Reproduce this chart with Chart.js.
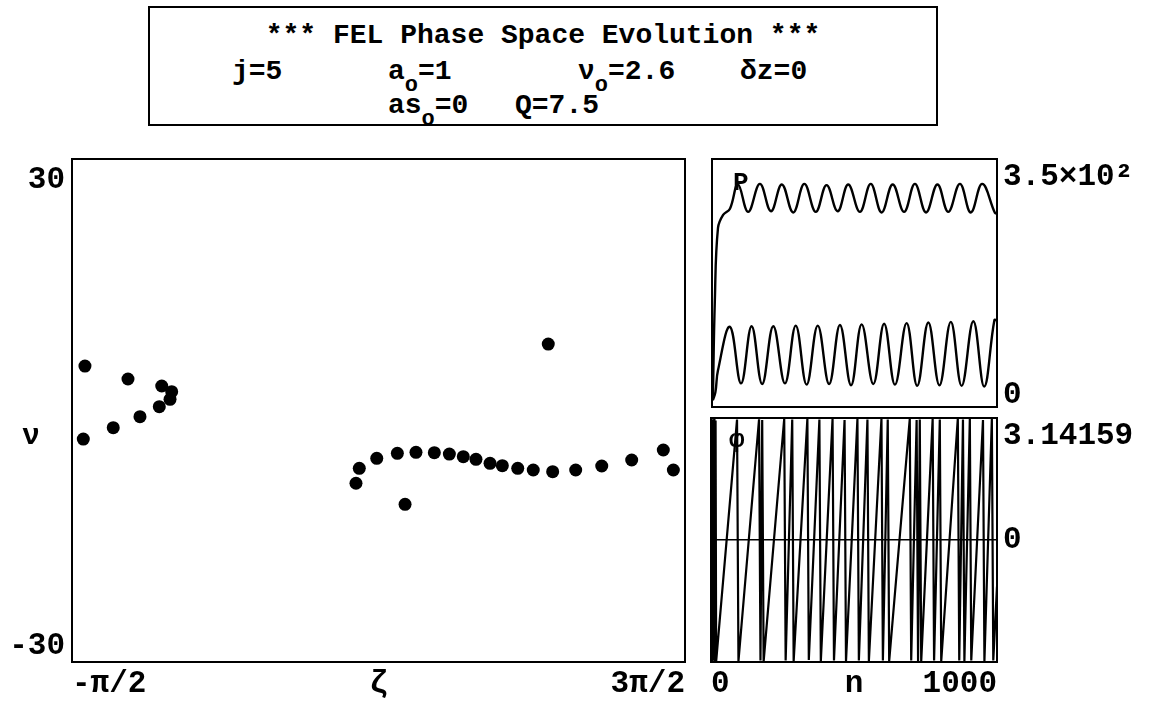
<!DOCTYPE html>
<html>
<head>
<meta charset="utf-8">
<script src="https://cdn.jsdelivr.net/npm/chart.js@4.4.1/dist/chart.umd.min.js"></script>
<style>
  html, body { margin: 0; padding: 0; background: #fff; }
  body { width: 1152px; height: 706px; position: relative; overflow: hidden;
         font-family: 'Liberation Mono', 'DejaVu Sans Mono', monospace; font-weight: bold; color: #000; }
  .pane { position: absolute; }
  #title { position: absolute; left: 148px; top: 6px; width: 786px; height: 116px; border: 2px solid #000; }
  .t { position: absolute; font-size: 28px; line-height: 28px; white-space: pre; }
  .sub { font-size: 22px; position: relative; top: 12px; }
  .lbl { position: absolute; font-size: 30px; line-height: 30px; }
</style>
</head>
<body>
<div id="title">
  <div class="t" style="left:0;width:786px;text-align:center;top:14px;">*** FEL Phase Space Evolution ***</div>
  <div class="t" style="left:82px;top:50px;">j=5</div>
  <div class="t" style="left:238px;top:50px;">a<span class="sub">o</span>=1</div>
  <div class="t" style="left:428px;top:50px;">ν<span class="sub">o</span>=2.6</div>
  <div class="t" style="left:590px;top:50px;">δz=0</div>
  <div class="t" style="left:238px;top:84px;">as<span class="sub">o</span>=0</div>
  <div class="t" style="left:365px;top:84px;">Q=7.5</div>
</div>

<div class="pane" style="left:0;top:150px;width:705px;height:556px;"><canvas id="phase"></canvas></div>
<div class="pane" style="left:705px;top:150px;width:447px;height:262px;"><canvas id="power"></canvas></div>
<div class="pane" style="left:705px;top:410px;width:447px;height:296px;"><canvas id="phi"></canvas></div>

<div class="lbl" style="left:22px;top:421px;">ν</div>
<div class="lbl" style="left:733px;top:168px;font-size:26px;">P</div>
<div class="lbl" style="left:729px;top:425px;font-size:26px;">φ</div>

<script>
// electron phase space: zeta (rad) vs nu
const zeta = [-1.438, -0.997, -0.651, -0.549, -0.566, -0.676, -0.874, -1.148, -1.455,
              3.311, 1.374, 1.340, 1.553, 1.764, 1.955, 2.143, 2.297, 2.440, 2.570, 2.714,
              2.840, 2.998, 3.157, 3.356, 3.592, 3.859, 4.166, 4.490, 4.593, 1.843];
const nu = [6.07, 4.40, 3.50, 2.77, 1.79, 0.84, -0.45, -1.86, -3.32,
            8.90, -7.09, -9.01, -5.80, -5.16, -5.03, -5.08, -5.25, -5.59, -5.93, -6.44,
            -6.75, -7.09, -7.30, -7.52, -7.30, -6.79, -6.02, -4.73, -7.30, -11.72];
const zetaTicks = [-Math.PI / 2, Math.PI / 2, 3 * Math.PI / 2];
const zetaLabels = ['-π/2', 'ζ', '3π/2'];
const nuTicks = [-30, 30];
const nuLabels = ['-30', '30'];

// upper curve (P) and lower curve vs pass number n
const pN = [3, 10, 21, 39, 63, 91, 127, 168, 207, 245, 285, 324, 364, 402, 441, 478, 519, 557,
            595, 634, 674, 712, 751, 791, 829, 870, 908, 948, 993, 1000];
const pVal = [-8, 153, 269, 290, 300, 339, 295, 340, 296, 339, 294, 340, 295, 338, 296, 339, 295, 340,
              294, 339, 295, 340, 294, 339, 295, 340, 294, 340, 293, 292];
const aN = [3, 12, 21, 63, 102, 139, 176, 215, 256, 294, 332, 371, 411, 449, 488, 525, 566, 604,
            642, 683, 720, 759, 798, 838, 876, 917, 955, 991, 1000];
const aVal = [-8, 5, 40, 110, 19, 111, 18, 111, 19, 112, 17, 112, 18, 113, 16, 114, 18, 115,
              17, 116, 15, 117, 16, 118, 15, 119, 14, 121, 120];
const powerTicks = [0, 350];
const powerLabels = ['0', '3.5×10²'];

// optical phase vs n (wrapped to -pi..pi)
const phN = [0, 3, 5, 7, 9, 12, 14, 16, 18, 91, 96, 168, 173, 179, 184, 256, 261, 284, 289, 337, 342, 379, 384,
             425, 430, 467, 472, 512, 517, 547, 552, 596, 601, 618, 623, 695, 700, 719, 724, 730, 735,
             775, 780, 800, 805, 863, 868, 881, 886, 905, 910, 951, 956, 982, 987, 1000];
const phVal = [0.2, 3.1, -3.12, 3.11, -3.1, 3.12, -3.11, 3.08, -3.13, 3.1, -3.12, 3.11, -3.1, 3.09, -3.13, 3.12, -3.1, 3.1, -3.12,
               3.13, -3.09, 3.1, -3.12, 3.12, -3.1, 3.09, -3.13, 3.12, -3.1, 3.1, -3.12, 3.13, -3.1,
               3.1, -3.12, 3.12, -3.1, 3.09, -3.12, 3.1, -3.13, 3.12, -3.1, 3.1, -3.12, 3.13, -3.1,
               3.1, -3.12, 3.12, -3.1, 3.09, -3.12, 3.12, -3.1, -1.2];
const phiTicks = [0, Math.PI];
const phiLabels = [['0'], ['', '3.14159']];
const nTicks = [0, 500, 1000];
const nLabels = ['0', 'n', '1000'];

const FONT = { family: "'Liberation Mono', 'DejaVu Sans Mono', monospace", size: 31, weight: 'bold' };

const frame = {
    id: 'frame',
    afterDraw(chart) {
        const { ctx, chartArea: a } = chart;
        ctx.save();
        ctx.strokeStyle = '#000';
        ctx.lineWidth = 2;
        ctx.strokeRect(a.left, a.top, a.right - a.left, a.bottom - a.top);
        ctx.restore();
    }
};

function fixedAxis(ticks, labels, pad, extra) {
    return Object.assign({
        type: 'linear',
        grid: { display: false, drawTicks: false },
        border: { display: false },
        ticks: {
            color: '#000', font: FONT, autoSkip: false, maxRotation: 0, padding: pad, align: 'inner',
            callback: (v, i) => labels[i]
        },
        afterBuildTicks: s => { s.ticks = ticks.map(v => ({ value: v })); }
    }, extra);
}

Chart.defaults.animation = false;
Chart.defaults.responsive = true;
Chart.defaults.maintainAspectRatio = false;
Chart.defaults.plugins.legend.display = false;
Chart.defaults.plugins.tooltip.enabled = false;

new Chart(document.getElementById('phase'), {
    type: 'scatter',
    data: {
        datasets: [{
            data: zeta.map((z, i) => ({ x: z, y: nu[i] })),
            backgroundColor: '#000', borderColor: '#000',
            pointRadius: 6.5, pointBorderWidth: 0
        }]
    },
    options: {
        layout: { padding: { top: 9, right: 20, left: 0, bottom: 0 } },
        scales: {
            x: fixedAxis(zetaTicks, zetaLabels, 4, {
                min: -Math.PI / 2, max: 3 * Math.PI / 2,
                afterFit: s => { s.height = 44; s.paddingLeft = 0; s.paddingRight = 0; }
            }),
            y: fixedAxis(nuTicks, nuLabels, 7, {
                min: -32, max: 32.7,
                afterFit: s => { s.width = 72; s.paddingTop = 0; s.paddingBottom = 0; }
            })
        }
    },
    plugins: [frame]
});

new Chart(document.getElementById('power'), {
    type: 'line',
    data: {
        datasets: [{
            data: pN.map((n, i) => ({ x: n, y: pVal[i] })),
            borderColor: '#000', borderWidth: 2.4, pointRadius: 0, tension: 0.4
        }, {
            data: aN.map((n, i) => ({ x: n, y: aVal[i] })),
            borderColor: '#000', borderWidth: 2.4, pointRadius: 0, tension: 0.4
        }]
    },
    options: {
        layout: { padding: { top: 9, right: 0, left: 7, bottom: 5 } },
        scales: {
            x: { type: 'linear', min: 0, max: 1000, display: false },
            y: fixedAxis(powerTicks, powerLabels, 6, {
                position: 'right', min: -19, max: 380,
                afterFit: s => { s.width = 155; s.paddingTop = 0; s.paddingBottom = 0; }
            })
        }
    },
    plugins: [frame]
});

new Chart(document.getElementById('phi'), {
    type: 'line',
    data: {
        datasets: [{
            data: phN.map((n, i) => ({ x: n, y: phVal[i] })),
            borderColor: '#000', borderWidth: 2.2, pointRadius: 0, tension: 0
        }]
    },
    options: {
        layout: { padding: { top: 8, right: 0, left: 6, bottom: 0 } },
        scales: {
            x: fixedAxis(nTicks, nLabels, 4, {
                min: 0, max: 1000,
                afterFit: s => { s.height = 44; s.paddingLeft = 0; s.paddingRight = 0; }
            }),
            y: fixedAxis(phiTicks, phiLabels, 6, {
                position: 'right', min: -Math.PI, max: Math.PI,
                grid: { display: true, drawTicks: false, lineWidth: 1.5,
                        color: c => (c.tick && c.tick.value === 0 ? '#000' : 'rgba(0,0,0,0)') },
                afterFit: s => { s.width = 155; s.paddingTop = 0; s.paddingBottom = 0; }
            })
        }
    },
    plugins: [frame]
});
</script>
</body>
</html>
